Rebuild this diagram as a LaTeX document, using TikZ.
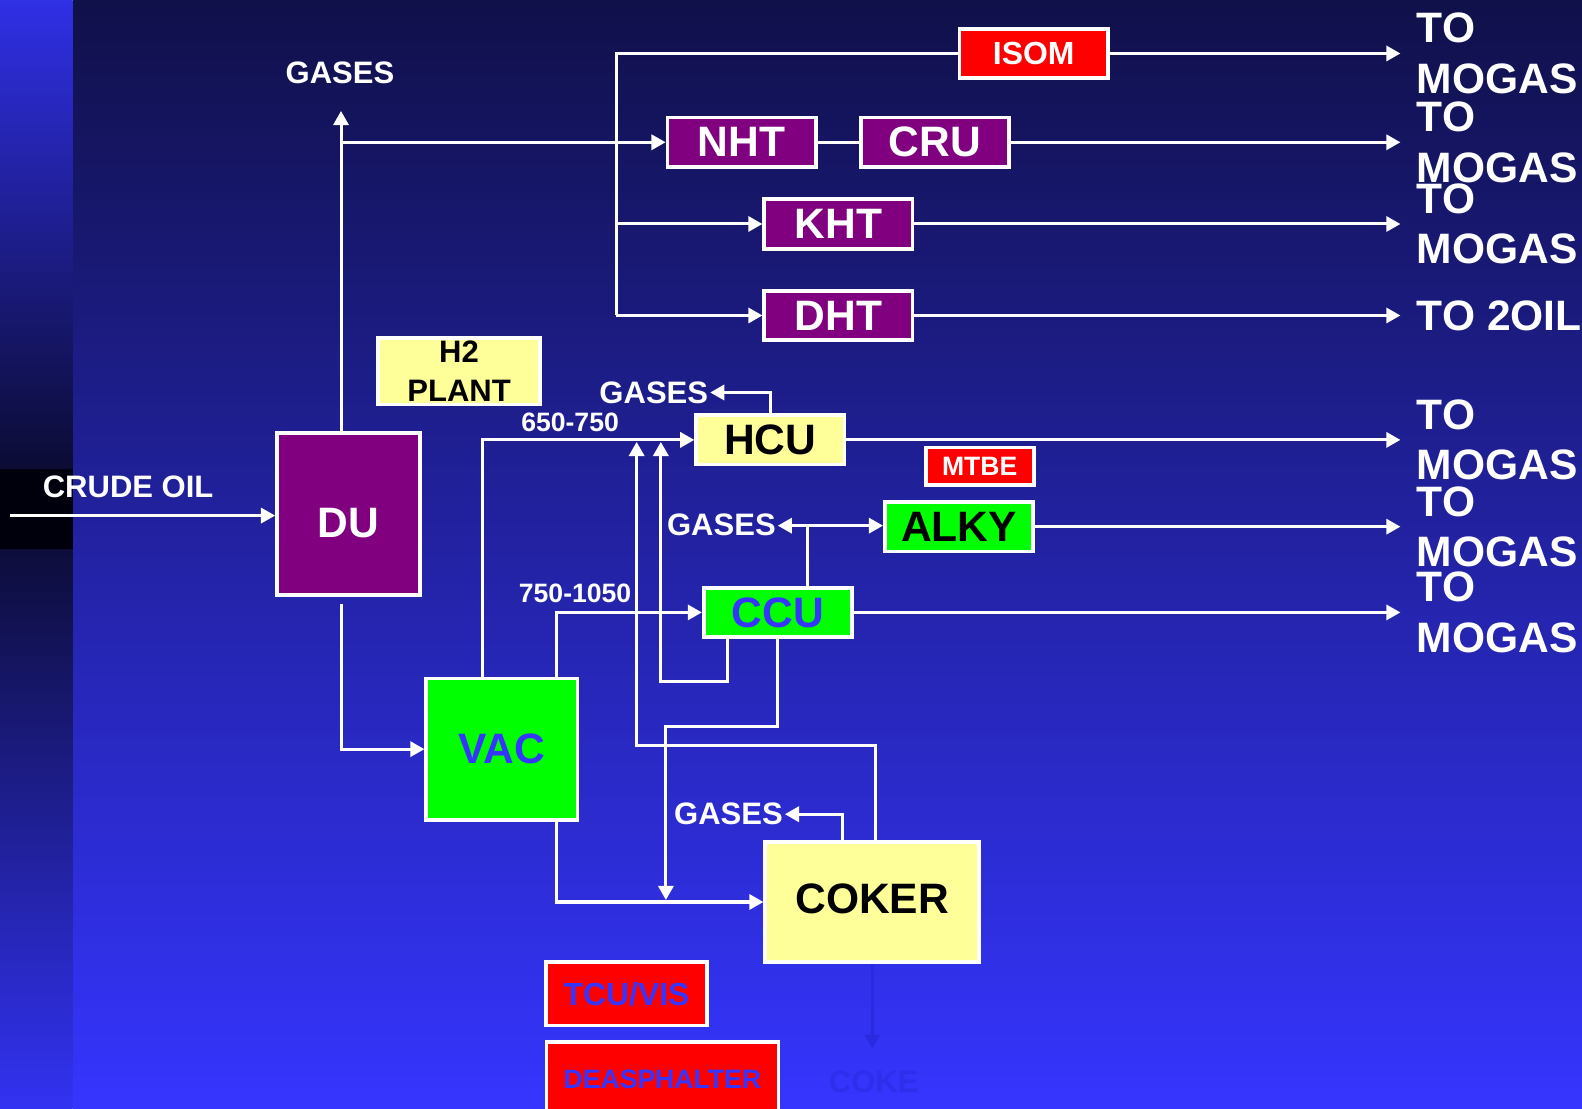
\documentclass[tikz,border=0pt]{standalone}
\usepackage{fontspec}
\setmainfont{Liberation Sans}
\usetikzlibrary{arrows.meta, positioning}
\definecolor{cpurple}{HTML}{800080}
\definecolor{cyellow}{HTML}{FFFF99}
\definecolor{cgreen}{HTML}{00FF00}
\definecolor{cred}{HTML}{FF0000}
\definecolor{cblue}{HTML}{3535FF}
\definecolor{cnavy}{HTML}{10104A}
\definecolor{cmid}{HTML}{2626B4}
\definecolor{cfaint}{HTML}{2A2AE0}
\tikzset{
  unit/.style={draw=white, fill=#1, text=white, line width=2.1pt, inner sep=0pt, align=center, font=\bfseries\fontsize{24}{28}\selectfont},
  unit/.default=cpurple,
  flow/.style={-{Triangle[length=0.28cm, width=0.3cm]}, draw=white, line width=1.7pt},
  pipe/.style={draw=white, line width=1.7pt},
  tag/.style={text=white, inner sep=1pt, font=\bfseries\fontsize{17.5}{20}\selectfont},
  dest/.style={text=white, inner sep=0pt, align=left, anchor=west, font=\bfseries\fontsize{24}{28.5}\selectfont},
}

\begin{document}
\begin{tikzpicture}[x=0.02cm, y=-0.02cm,
                    slim/.style={minimum width=2.94cm, minimum height=0.98cm},
                    sm/.style={font=\bfseries\fontsize{15}{18}\selectfont}]
  \useasboundingbox (0,0) rectangle (1568,1099);
  \clip (0,0) rectangle (1568,1099);
  % background
  \shade[top color=cnavy, middle color=cmid, bottom color=cblue] (72,0) rectangle (1568,1099);
  \shade[top color=cblue!90!black, bottom color=cnavy!70!black] (0,0) rectangle (72,465);
  \fill[black!95!blue] (0,465) rectangle (72,545);
  \shade[top color=cnavy!80!black, bottom color=cblue!95!black] (0,545) rectangle (72,1099);
  % units
  \node[unit, minimum width=2.84cm, minimum height=3.2cm, text height=0.92cm] (du) at (345.5,509.5) {DU};
  \node[unit=cyellow, text=black, minimum width=3.22cm, minimum height=1.32cm,
        font=\bfseries\fontsize{17.5}{22}\selectfont] (h2) at (455,368) {H2\\PLANT};
  \node[unit=cred, slim, font=\bfseries\fontsize{18}{20}\selectfont] (isom) at (1024.5,53) {ISOM};
  \node[unit, slim] (nht) at (735,141) {NHT};
  \node[unit, slim, right=0.82cm of nht] (cru) {CRU};
  \node[unit, slim] (kht) at (831,222) {KHT};
  \node[unit, slim, below=0.76cm of kht] (dht) {DHT};
  \node[unit=cyellow, slim, text=black] (hcu) at (763.5,436) {HCU};
  \node[unit=cred, sm, minimum width=2.14cm, minimum height=0.74cm] (mtbe) at (971,462) {MTBE};
  \node[unit=cgreen, slim, text=black] (alky) at (950.5,522) {ALKY};
  \node[unit=cgreen, slim, text=cblue] (ccu) at (771,607) {CCU};
  \node[unit=cgreen, text=cblue, minimum width=3cm, minimum height=2.8cm] (vac) at (497.5,742.5) {VAC};
  \node[unit=cyellow, text=black, minimum width=4.24cm, minimum height=2.38cm, text depth=0.12cm] (coker) at (864.5,894) {COKER};
  \node[unit=cred, text=cblue, minimum width=3.18cm, minimum height=1.26cm,
        font=\bfseries\fontsize{18}{20}\selectfont] (tcu) at (621,985) {TCU/VIS};
  \node[unit=cred, text=cblue, sm, minimum width=4.6cm, minimum height=1.56cm, text depth=0.1cm] (dea) at (656.5,1072) {DEASPHALTER};
  % stream labels
  \node[tag] (crude) at (127,483) {CRUDE OIL};
  \node[tag] (gasdu) at (337,72) {GASES};
  \node[tag] (gashcu) at (648,389) {GASES};
  \node[tag] (gasccu) at (715,520) {GASES};
  \node[tag] (gascok) at (722,807) {GASES};
  \node[tag, sm] (cut1) at (565,419) {650-750};
  \node[tag, sm] (cut2) at (570,588) {750-1050};
  % crude unit
  \coordinate (feed) at (10,511);
  \coordinate (gastip) at (338,110);
  \draw[flow] (feed) -- (feed -| du.west);
  \draw[flow] (gastip |- du.north) -- (gastip);
  \draw[flow] (gastip |- nht) -- (nht.west);
  \draw[flow, shorten <=0.14cm] (gastip |- du.south) |- (vac.west);
  % naphtha and distillate bus
  \coordinate (bus) at (611,53);
  \draw[pipe] (isom.west) -- (bus) -- (bus |- dht);
  \draw[flow] (bus |- kht) -- (kht.west);
  \draw[flow] (bus |- dht) -- (dht.west);
  \draw[pipe] (nht) -- (cru);
  % vacuum cuts
  \draw[flow] ([xshift=-0.39cm]vac.north) |- (hcu.west);
  \draw[flow] ([xshift=1.09cm]vac.north) |- (ccu.west);
  \draw[flow] ([xshift=1.09cm]vac.south) |- (coker.west);
  % gases
  \draw[flow] (hcu.north) |- (gashcu.east);
  \draw[flow] ([xshift=-0.59cm]coker.north) |- (gascok.east);
  \coordinate (split) at (800,521);
  \draw[pipe] (ccu.north -| split) -- (split);
  \draw[flow] (split) -- (split -| gasccu.east);
  \draw[flow] (split) -- (split -| alky.west);
  % recycles
  \coordinate (loop) at (655,675);
  \draw[flow] ([xshift=-1cm]ccu.south) |- (loop) -- ([yshift=-0.04cm]loop |- hcu.west);
  \coordinate (cgo) at (631,739);
  \draw[flow] ([xshift=0.07cm]coker.north) |- (cgo) -- ([yshift=-0.04cm]cgo |- hcu.west);
  \coordinate (slurry) at (660,720);
  \draw[flow] (ccu.south) |- (slurry) -- ([yshift=0.04cm]slurry |- coker.west);
  % products
  \coordinate (tip) at (1388,0);
  \foreach \u/\txt in {isom/{TO\\MOGAS}, cru/{TO\\MOGAS}, kht/{TO\\MOGAS}, dht/{TO 2OIL},
                       hcu/{TO\\MOGAS}, alky/{TO\\MOGAS}, ccu/{TO\\MOGAS}} {
    \draw[flow] (\u.east) -- (\u.east -| tip) coordinate (e\u);
    \node[dest, right=0.32cm of e\u] (to\u) {\txt};
  }
  \draw[flow, draw=cfaint] (coker.south) -- ++(0,84) coordinate (cokeend);
  \node[tag, text=cfaint!60!cblue] (coke) at (866,1072) {COKE};
\end{tikzpicture}
\end{document}
